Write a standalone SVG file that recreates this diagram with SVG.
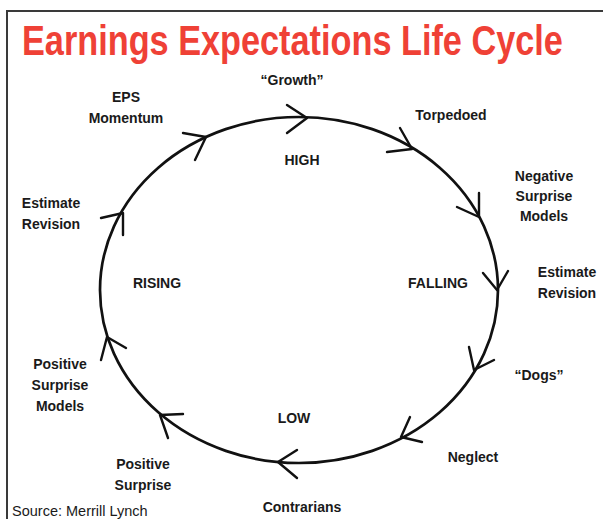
<svg xmlns="http://www.w3.org/2000/svg" width="603" height="519" viewBox="0 0 603 519">
  <style>
    .frame { fill: none; stroke: #3a3a3a; stroke-width: 2; }
    .title { font-family: "Liberation Sans", Arial, sans-serif; font-weight: bold; font-size: 42px; fill: #ef4136; }
    .lbl { font-family: "Liberation Sans", Arial, sans-serif; font-weight: bold; font-size: 14px; fill: #1a1a1a; text-anchor: middle; }
    .src { font-family: "Liberation Sans", Arial, sans-serif; font-size: 14.5px; fill: #1a1a1a; }
    .cycle { fill: none; stroke: #111; stroke-width: 2.7; }
    .head { fill: none; stroke: #111; stroke-width: 2.4; stroke-linecap: round; stroke-linejoin: round; }
  </style>

  <rect width="603" height="519" fill="#ffffff"/>
  <path class="frame" d="M7,519 V11 H603"/>

  <!-- condensed heading: bold face squeezed horizontally -->
  <text class="title" transform="translate(22,55) scale(0.816,1)" x="0" y="0">Earnings Expectations Life Cycle</text>

  <!-- cycle ring and its clockwise arrowheads -->
  <g id="connectors">
    <ellipse class="cycle" cx="299" cy="290" rx="199" ry="173"/>
    <path class="head" d="M287,105 L307,118 L287,133"/>
    <path class="head" d="M400,128 L412,149 L387,152"/>
    <path class="head" d="M479,193 L479,217 L457,207"/>
    <path class="head" d="M483,273 L497,290 L508,271"/>
    <path class="head" d="M469,347 L474,370 L494,360"/>
    <path class="head" d="M410,417 L401,437 L422,442"/>
    <path class="head" d="M297,450 L278,462 L297,478"/>
    <path class="head" d="M183,414 L160,415 L168,438"/>
    <path class="head" d="M101,360 L107,337 L126,348"/>
    <path class="head" d="M101,218 L123,213 L123,235"/>
    <path class="head" d="M183,133 L206,137 L195,160"/>
  </g>

  <!-- phases inside the ring -->
  <g id="high"><text class="lbl" x="302" y="165">HIGH</text></g>
  <g id="falling"><text class="lbl" x="438" y="288">FALLING</text></g>
  <g id="low"><text class="lbl" x="294" y="423">LOW</text></g>
  <g id="rising"><text class="lbl" x="157" y="288">RISING</text></g>

  <!-- stages around the ring -->
  <g id="growth"><text class="lbl" x="292" y="85">“Growth”</text></g>
  <g id="torpedoed"><text class="lbl" x="451" y="120">Torpedoed</text></g>
  <g id="negative-surprise-models">
    <text class="lbl" x="544" y="181">Negative</text>
    <text class="lbl" x="544" y="201">Surprise</text>
    <text class="lbl" x="544" y="221">Models</text>
  </g>
  <g id="estimate-revision-down">
    <text class="lbl" x="567" y="277">Estimate</text>
    <text class="lbl" x="567" y="298">Revision</text>
  </g>
  <g id="dogs"><text class="lbl" x="539" y="380">“Dogs”</text></g>
  <g id="neglect"><text class="lbl" x="473" y="462">Neglect</text></g>
  <g id="contrarians"><text class="lbl" x="302" y="512">Contrarians</text></g>
  <g id="positive-surprise">
    <text class="lbl" x="143" y="469">Positive</text>
    <text class="lbl" x="143" y="490">Surprise</text>
  </g>
  <g id="positive-surprise-models">
    <text class="lbl" x="60" y="369">Positive</text>
    <text class="lbl" x="60" y="390">Surprise</text>
    <text class="lbl" x="60" y="411">Models</text>
  </g>
  <g id="estimate-revision-up">
    <text class="lbl" x="51" y="208">Estimate</text>
    <text class="lbl" x="51" y="229">Revision</text>
  </g>
  <g id="eps-momentum">
    <text class="lbl" x="126" y="102">EPS</text>
    <text class="lbl" x="126" y="123">Momentum</text>
  </g>

  <text class="src" x="12" y="516">Source: Merrill Lynch</text>
</svg>
